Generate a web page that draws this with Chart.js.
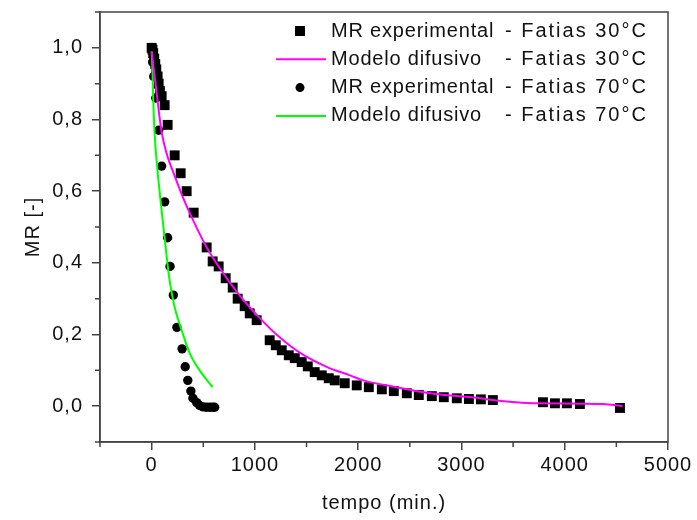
<!DOCTYPE html>
<html lang="pt">
<head>
<meta charset="utf-8">
<title>MR x tempo - Fatias</title>
<script src="https://cdn.jsdelivr.net/npm/chart.js@4"></script>
<style>
  body { margin: 0; background: #fff; }
  canvas { display: block; }
</style>
</head>
<body>
<canvas id="grafico" width="697" height="520"></canvas>
<script>
"use strict";

// Fatias 30°C - MR experimental
const tempo30 = [0, 8, 15, 25, 35, 45, 58, 68, 80, 97, 126, 155, 223, 281, 339, 407, 533, 591, 649, 717,
    785, 833, 901, 950, 1017, 1143, 1202, 1260, 1328, 1386, 1453, 1512, 1579, 1647, 1715, 1773, 1870,
    1986, 2103, 2229, 2345, 2471, 2587, 2713, 2829, 2955, 3072, 3188, 3304, 3789, 3905, 4021, 4147, 4535];
const mr30 = [1.0, 0.995, 0.985, 0.97, 0.955, 0.94, 0.92, 0.9, 0.88, 0.865, 0.84, 0.785, 0.7, 0.65, 0.6,
    0.54, 0.443, 0.404, 0.39, 0.357, 0.331, 0.3, 0.279, 0.259, 0.24, 0.184, 0.17, 0.156, 0.142, 0.134,
    0.123, 0.111, 0.095, 0.086, 0.078, 0.072, 0.064, 0.058, 0.053, 0.047, 0.042, 0.036, 0.031, 0.028,
    0.025, 0.022, 0.02, 0.019, 0.017, 0.011, 0.008, 0.008, 0.006, -0.005];

// Fatias 30°C - modelo difusivo
const tempoModelo30 = [0, 25, 50, 75, 100, 150, 200, 300, 400, 530, 660, 850, 1050, 1240, 1430, 1700,
    1920, 2050, 2370, 2700, 3180, 3370, 3630, 4370, 4560];
const mrModelo30 = [0.99, 0.93, 0.87, 0.81, 0.76, 0.7, 0.66, 0.585, 0.52, 0.445, 0.385, 0.31, 0.245,
    0.192, 0.15, 0.109, 0.086, 0.072, 0.053, 0.036, 0.022, 0.015, 0.009, 0.006, 0.0];

// Fatias 70°C - MR experimental
const tempo70 = [0, 10, 20, 40, 68, 97, 126, 155, 178, 210, 245, 295, 325, 350, 380, 400, 436, 465,
    500, 530, 562, 590, 610];
const mr70 = [1.0, 0.96, 0.92, 0.86, 0.77, 0.67, 0.57, 0.47, 0.39, 0.31, 0.22, 0.16, 0.11, 0.072,
    0.042, 0.022, 0.01, 0.002, -0.002, -0.003, -0.003, -0.003, -0.003];

// Fatias 70°C - modelo difusivo
const tempoModelo70 = [0, 7, 13, 29, 58, 97, 136, 174, 223, 291, 368, 465, 591];
const mrModelo70 = [0.99, 0.95, 0.88, 0.76, 0.655, 0.545, 0.443, 0.351, 0.276, 0.212, 0.148, 0.1, 0.053];

const legendaNomes = ['MR experimental', 'Modelo difusivo', 'MR experimental', 'Modelo difusivo'];
const legendaFatias = ['- Fatias 30°C', '- Fatias 30°C', '- Fatias 70°C', '- Fatias 70°C'];

const ticksX = [0, 1000, 2000, 3000, 4000, 5000];
const ticksXMenores = [-500, 500, 1500, 2500, 3500, 4500];
const ticksY = [0, 0.2, 0.4, 0.6, 0.8, 1.0];
const ticksYMenores = [-0.1, 0.1, 0.3, 0.5, 0.7, 0.9, 1.1];

const familia = "'Liberation Sans', Arial, sans-serif";
const fonte = { family: familia, size: 20 };
const corTexto = '#111';
const corEixo = '#444';

function pontos(xs, ys) {
    return xs.map((x, i) => ({ x: x, y: ys[i] }));
}

// moldura fechada + ticks menores
const moldura = {
    id: 'moldura',
    beforeDraw(chart) {
        chart.ctx.letterSpacing = '1px';
    },
    afterDraw(chart) {
        const c = chart.ctx;
        const a = chart.chartArea;
        const sx = chart.scales.x;
        const sy = chart.scales.y;
        c.save();
        c.strokeStyle = corEixo;
        c.lineWidth = 1.5;
        c.strokeRect(a.left, a.top, a.right - a.left, a.bottom - a.top);
        c.beginPath();
        ticksXMenores.forEach(v => {
            const px = sx.getPixelForValue(v);
            c.moveTo(px, a.bottom);
            c.lineTo(px, a.bottom + 5);
        });
        ticksYMenores.forEach(v => {
            const py = sy.getPixelForValue(v);
            c.moveTo(a.left, py);
            c.lineTo(a.left - 5, py);
        });
        c.stroke();
        c.restore();
    }
};

// legenda dentro do grafico, em duas colunas
const legenda = {
    id: 'legenda',
    afterDraw(chart) {
        const c = chart.ctx;
        const a = chart.chartArea;
        c.save();
        c.font = '20px ' + familia;
        c.textBaseline = 'middle';
        chart.data.datasets.forEach((ds, i) => {
            const y = a.top + 19 + i * 28.3;
            const mx = a.right - 368;
            if (ds.showLine) {
                c.strokeStyle = ds.borderColor;
                c.lineWidth = 2;
                c.beginPath();
                c.moveTo(mx - 24, y);
                c.lineTo(mx + 26, y);
                c.stroke();
            } else if (ds.pointStyle === 'rect') {
                c.fillStyle = '#000';
                c.fillRect(mx - 5, y - 5, 10, 10);
            } else {
                c.fillStyle = '#000';
                c.beginPath();
                c.arc(mx, y, 4.5, 0, Math.PI * 2);
                c.fill();
            }
            c.fillStyle = corTexto;
            c.letterSpacing = '0.8px';
            c.fillText(legendaNomes[i], a.right - 337, y);
            c.letterSpacing = '2px';
            c.fillText(legendaFatias[i], a.right - 163, y);
        });
        c.restore();
    }
};

const ctx = document.getElementById('grafico');

new Chart(ctx, {
    type: 'scatter',
    data: {
        datasets: [{
            label: legendaNomes[0] + '  ' + legendaFatias[0],
            data: pontos(tempo30, mr30),
            pointStyle: 'rect',
            pointRadius: 7,
            pointHoverRadius: 7,
            backgroundColor: '#000',
            borderColor: '#000',
            borderWidth: 0,
            order: 1
        }, {
            label: legendaNomes[1] + '  ' + legendaFatias[1],
            data: pontos(tempoModelo30, mrModelo30),
            showLine: true,
            cubicInterpolationMode: 'monotone',
            pointRadius: 0,
            pointHoverRadius: 0,
            borderColor: '#ff00ff',
            borderWidth: 2,
            order: 0
        }, {
            label: legendaNomes[2] + '  ' + legendaFatias[2],
            data: pontos(tempo70, mr70),
            pointStyle: 'circle',
            pointRadius: 4.7,
            pointHoverRadius: 4.7,
            backgroundColor: '#000',
            borderColor: '#000',
            borderWidth: 0,
            order: 2
        }, {
            label: legendaNomes[3] + '  ' + legendaFatias[3],
            data: pontos(tempoModelo70, mrModelo70),
            showLine: true,
            cubicInterpolationMode: 'monotone',
            pointRadius: 0,
            pointHoverRadius: 0,
            borderColor: '#00ff00',
            borderWidth: 2,
            order: 0
        }]
    },
    options: {
        responsive: false,
        animation: false,
        layout: {
            padding: { top: 12, right: 29, left: 0, bottom: 0 }
        },
        plugins: {
            legend: { display: false },
            tooltip: { enabled: false }
        },
        scales: {
            x: {
                type: 'linear',
                min: -500,
                max: 5000,
                afterBuildTicks: s => { s.ticks = ticksX.map(v => ({ value: v })); },
                afterFit: s => {
                    s.height = 78;
                    s.paddingLeft = 0;
                    s.paddingRight = 0;
                },
                grid: { drawOnChartArea: false, tickLength: 8, color: corEixo, lineWidth: 1.5 },
                border: { color: corEixo, width: 1.5 },
                ticks: {
                    font: fonte,
                    color: corTexto,
                    padding: 3,
                    maxRotation: 0,
                    callback: v => String(v)
                },
                title: {
                    display: true,
                    text: 'tempo (min.)',
                    font: fonte,
                    color: corTexto,
                    padding: { top: 0, bottom: 5 }
                }
            },
            y: {
                min: -0.1,
                max: 1.1,
                afterBuildTicks: s => { s.ticks = ticksY.map(v => ({ value: v })); },
                afterFit: s => {
                    s.width = 100;
                    s.paddingTop = 0;
                    s.paddingBottom = 0;
                },
                grid: { drawOnChartArea: false, tickLength: 8, color: corEixo, lineWidth: 1.5 },
                border: { color: corEixo, width: 1.5 },
                ticks: {
                    font: fonte,
                    color: corTexto,
                    padding: 9,
                    callback: v => v.toFixed(1).replace('.', ',')
                },
                title: {
                    display: true,
                    text: 'MR [-]',
                    font: fonte,
                    color: corTexto,
                    padding: { top: 21, bottom: 0 }
                }
            }
        }
    },
    plugins: [moldura, legenda]
});
</script>
</body>
</html>
